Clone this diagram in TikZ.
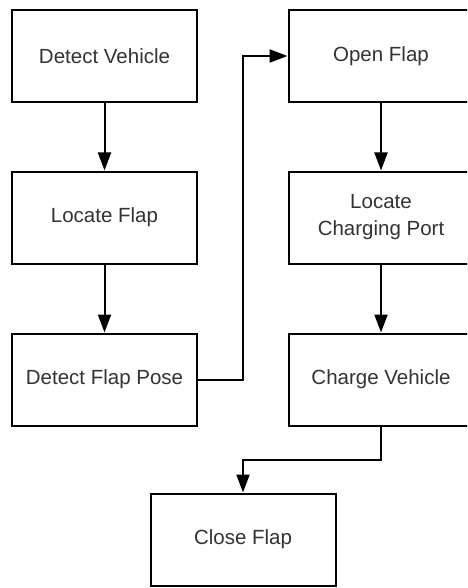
\documentclass[tikz,border=0pt]{standalone}
\usepackage{fontspec}
\setmainfont{Liberation Sans}
\usetikzlibrary{arrows.meta}
\definecolor{txt}{HTML}{333333}
\begin{document}
\begin{tikzpicture}[x=1pt,y=-1pt,
  box/.style={draw=black,line width=2pt,minimum width=185pt,minimum height=92pt,
    inner sep=0pt,align=center,text=txt,font=\fontsize{20.5}{27}\selectfont,fill=white},
  conn/.style={draw=black,line width=2pt,-{Triangle[length=18pt,width=13pt]}}]
\useasboundingbox (0,0) rectangle (467,588);
\clip (0,0) rectangle (467,588);
\fill[white] (0,0) rectangle (467,588);
\node[box] (dv) at (104.5,56) {Detect Vehicle};
\node[box] (lf) at (104.5,217.5) {Locate Flap};
\node[box] (dp) at (104.5,379.5) {Detect Flap Pose};
\node[box] (of) at (381,56) {Open Flap};
\node[box] (lc) at (381,217.5) {Locate\\Charging Port};
\node[box] (cv) at (381,379.5) {Charge Vehicle};
\node[box] (cf) at (243,539.5) {Close Flap};
\coordinate (m1) at (243,460);
\draw[conn] (dv) -- (lf);
\draw[conn] (lf) -- (dp);
\draw[conn] (dp.east) -| (243,300) |- (of.west);
\draw[conn] (of) -- (lc);
\draw[conn] (lc) -- (cv);
\draw[conn] (cv.south) |- (m1) -- (cf.north);
\end{tikzpicture}
\end{document}
